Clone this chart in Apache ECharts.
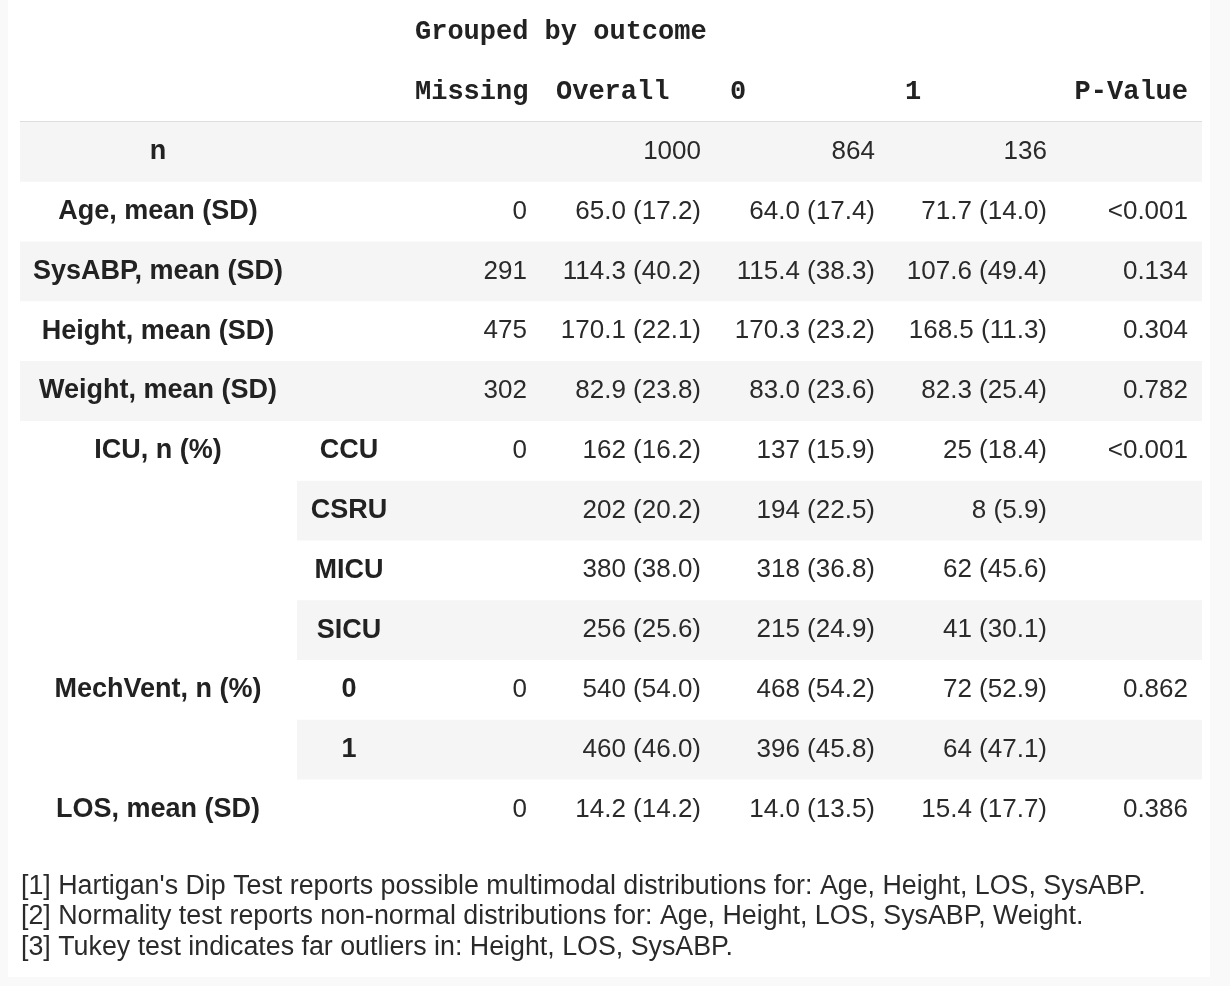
<!DOCTYPE html>
<html>
<head>
<meta charset="utf-8">
<script src="https://cdn.jsdelivr.net/npm/echarts@6/dist/echarts.min.js"></script>
<style>
  html, body { margin: 0; padding: 0; background: #f9f9f9; }
  #chart { position: absolute; left: 8px; top: 0; width: 1202px; height: 977px; background: #ffffff; }
</style>
</head>
<body>
<div id="chart"></div>
<script>
// ---------------- data ----------------
const groupTitle = 'Grouped by outcome';
const columnHeaders = ['Missing', 'Overall', '0', '1', 'P-Value'];
const rowLabels = ['n', 'Age, mean (SD)', 'SysABP, mean (SD)', 'Height, mean (SD)', 'Weight, mean (SD)',
  'ICU, n (%)', '', '', '', 'MechVent, n (%)', '', 'LOS, mean (SD)'];
const subLabels = ['', '', '', '', '', 'CCU', 'CSRU', 'MICU', 'SICU', '0', '1', ''];
const missing = ['', '0', '291', '475', '302', '0', '', '', '', '0', '', '0'];
const overall = ['1000', '65.0 (17.2)', '114.3 (40.2)', '170.1 (22.1)', '82.9 (23.8)',
  '162 (16.2)', '202 (20.2)', '380 (38.0)', '256 (25.6)', '540 (54.0)', '460 (46.0)', '14.2 (14.2)'];
const group0 = ['864', '64.0 (17.4)', '115.4 (38.3)', '170.3 (23.2)', '83.0 (23.6)',
  '137 (15.9)', '194 (22.5)', '318 (36.8)', '215 (24.9)', '468 (54.2)', '396 (45.8)', '14.0 (13.5)'];
const group1 = ['136', '71.7 (14.0)', '107.6 (49.4)', '168.5 (11.3)', '82.3 (25.4)',
  '25 (18.4)', '8 (5.9)', '62 (45.6)', '41 (30.1)', '72 (52.9)', '64 (47.1)', '15.4 (17.7)'];
const pValue = ['', '<0.001', '0.134', '0.304', '0.782', '<0.001', '', '', '', '0.862', '', '0.386'];
const footnotes = [
  "[1] Hartigan's Dip Test reports possible multimodal distributions for: Age, Height, LOS, SysABP.",
  "[2] Normality test reports non-normal distributions for: Age, Height, LOS, SysABP, Weight.",
  "[3] Tukey test indicates far outliers in: Height, LOS, SysABP."
];

// ---------------- layout (page x coordinates) ----------------
const L = {
  tableLeft: 20, tableRight: 1202, subLeft: 297,
  labelCenter: 158, subCenter: 349,
  headerLeft: [415, 556, 730, 905, 1075],
  valueRight: [527, 701, 875, 1047, 1188]
};
const SANS = "'Liberation Sans', Arial, Helvetica, sans-serif";
const MONO = "'Liberation Mono', 'Courier New', monospace";
const FS = 26;
const FS_BOLD = 27;
const TXT = '#222';
const TXT_BODY = '#2a2a2a';

const rowCats = ['title', 'header'].concat(rowLabels.map((d, i) => 'r' + i));
const cellData = rowCats.map((c, i) => [0, i]);

function renderRow(params, api) {
  const i = api.value(1);
  const band = api.size([0, 1])[1];
  const cy = api.coord([0, i])[1];
  const X = x => api.coord([x, i])[0];
  const kids = [];
  const txt = (s, x, align, bold, font) => {
    if (!s) return;
    kids.push({
      type: 'text',
      style: {
        text: s, x: X(x), y: cy, align: align, verticalAlign: 'middle',
        font: (bold ? 'bold ' + FS_BOLD : FS) + 'px ' + (font || SANS), fill: bold ? TXT : TXT_BODY
      }
    });
  };
  if (i === 0) {
    txt(groupTitle, L.headerLeft[0], 'left', true, MONO);
    return { type: 'group', children: kids };
  }
  if (i === 1) {
    columnHeaders.forEach((h, k) => txt(h, k === 4 ? L.valueRight[k] : L.headerLeft[k], k === 4 ? 'right' : 'left', true, MONO));
    const yb = cy + band / 2;
    kids.push({ type: 'line', shape: { x1: X(L.tableLeft), y1: yb, x2: X(L.tableRight), y2: yb },
      style: { stroke: '#dedede', lineWidth: 2 } });
    return { type: 'group', children: kids };
  }
  const r = i - 2;
  if (r % 2 === 0) {
    // striped row; rows without own label cell start at the sub-label column (rowspan)
    const x0 = rowLabels[r] === '' && subLabels[r] !== '' ? L.subLeft : L.tableLeft;
    kids.push({ type: 'rect', shape: { x: X(x0), y: cy - band / 2, width: X(L.tableRight) - X(x0), height: band },
      style: { fill: '#f5f5f5' } });
  }
  txt(rowLabels[r], L.labelCenter, 'center', true);
  txt(subLabels[r], L.subCenter, 'center', true);
  [missing, overall, group0, group1, pValue].forEach((arr, k) => txt(arr[r], L.valueRight[k], 'right', false));
  return { type: 'group', children: kids };
}

const chart = echarts.init(document.getElementById('chart'), null, { renderer: 'canvas' });
chart.setOption({
  animation: false,
  title: {
    text: footnotes.join('\n'),
    left: 8, top: 866,
    textStyle: { fontFamily: SANS, fontSize: 26.8, fontWeight: 'normal', color: TXT_BODY, lineHeight: 30.5 }
  },
  grid: { left: 0, right: 0, top: 2.5, bottom: 977 - 2.5 - 14 * 59.77 },
  xAxis: { type: 'value', min: 8, max: 1210, show: false },
  yAxis: { type: 'category', data: rowCats, inverse: true, show: false },
  series: [{
    type: 'custom',
    renderItem: renderRow,
    data: cellData,
    silent: true
  }]
});
</script>
</body>
</html>
